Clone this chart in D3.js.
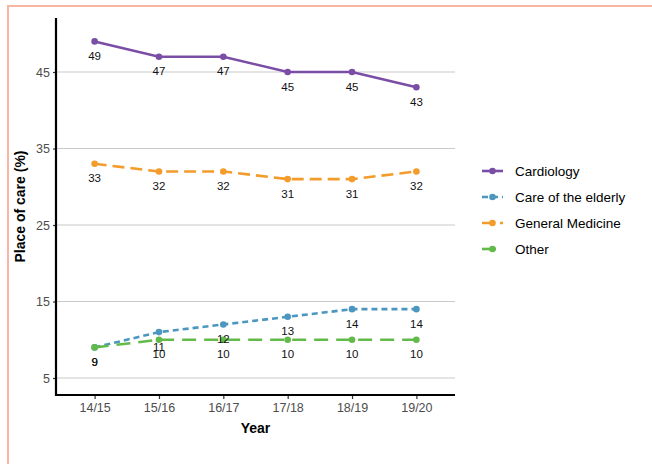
<!DOCTYPE html>
<html>
<head>
<meta charset="utf-8">
<script src="https://cdn.jsdelivr.net/npm/d3@7"></script>
<style>
  html, body { margin: 0; padding: 0; background: #fff; }
  svg { display: block; font-family: "Liberation Sans", Arial, sans-serif; }
</style>
</head>
<body>
<svg id="chart" width="652" height="464"></svg>
<script>
const years = ["14/15", "15/16", "16/17", "17/18", "18/19", "19/20"];
const cardiology = [49, 47, 47, 45, 45, 43];
const careElderly = [9, 11, 12, 13, 14, 14];
const generalMedicine = [33, 32, 32, 31, 31, 32];
const other = [9, 10, 10, 10, 10, 10];
const yTicks = [5, 15, 25, 35, 45];
const seriesNames = ["Cardiology", "Care of the elderly", "General Medicine", "Other"];
const seriesColors = ["#7b4ea6", "#4b97bf", "#f39b2b", "#62ba4b"];
const seriesDash = [null, "6,4", "12,6", "14,8"];
const seriesValues = [cardiology, careElderly, generalMedicine, other];

(function () {
const svg = d3.select("#chart");

// salmon frame
svg.append("line").attr("x1", 7).attr("x2", 652).attr("y1", 6).attr("y2", 6)
  .attr("stroke", "#f9b5a3").attr("stroke-width", 2);
svg.append("line").attr("x1", 8).attr("x2", 8).attr("y1", 5).attr("y2", 464)
  .attr("stroke", "#f9b5a3").attr("stroke-width", 2);

const pLeft = 56, pRight = 455, pTop = 18, pBottom = 395;
const x = d3.scalePoint().domain(years).range([pLeft, pRight]).padding(0.6);
const y = d3.scaleLinear().domain([2.78, 52.06]).range([pBottom, pTop]);

// gridlines
svg.append("g").selectAll("line").data(yTicks).join("line")
  .attr("x1", pLeft).attr("x2", pRight)
  .attr("y1", d => y(d)).attr("y2", d => y(d))
  .attr("stroke", "#c9c9c9").attr("stroke-width", 1);

// axes
const xAxis = svg.append("g").attr("transform", `translate(0,${pBottom})`)
  .call(d3.axisBottom(x).tickSize(4).tickPadding(4));
xAxis.select(".domain").remove();
xAxis.selectAll(".tick line").attr("stroke", "#333").attr("stroke-width", 1.2);
xAxis.selectAll(".tick text").attr("fill", "#4d4d4d").attr("font-size", 12.5)
  .attr("font-family", "Liberation Sans, Arial, sans-serif");

const yAxis = svg.append("g").attr("transform", `translate(${pLeft},0)`)
  .call(d3.axisLeft(y).tickValues(yTicks).tickSize(3).tickPadding(3));
yAxis.select(".domain").remove();
yAxis.selectAll(".tick line").attr("stroke", "#333").attr("stroke-width", 1.2);
yAxis.selectAll(".tick text").attr("fill", "#4d4d4d").attr("font-size", 12.5)
  .attr("font-family", "Liberation Sans, Arial, sans-serif");

svg.append("line").attr("x1", pLeft).attr("x2", pLeft).attr("y1", pTop).attr("y2", pBottom + 1)
  .attr("stroke", "#000").attr("stroke-width", 2.2);
svg.append("line").attr("x1", pLeft - 1).attr("x2", pRight).attr("y1", pBottom).attr("y2", pBottom)
  .attr("stroke", "#000").attr("stroke-width", 2.2);

// axis titles
svg.append("text").attr("x", (pLeft + pRight) / 2).attr("y", 433)
  .attr("text-anchor", "middle").attr("font-size", 14).attr("font-weight", "bold")
  .attr("fill", "#000").text("Year");
svg.append("text").attr("transform", `translate(25,${(pTop + pBottom) / 2}) rotate(-90)`)
  .attr("text-anchor", "middle").attr("font-size", 14).attr("font-weight", "bold")
  .attr("fill", "#000").text("Place of care (%)");

// lines and points
const line = d3.line().x((d, i) => x(years[i])).y(d => y(d));
seriesValues.forEach((vals, s) => {
  const g = svg.append("g");
  g.append("path").datum(vals).attr("d", line)
    .attr("fill", "none").attr("stroke", seriesColors[s]).attr("stroke-width", 2.6)
    .attr("stroke-dasharray", seriesDash[s]);
  g.selectAll("circle").data(vals).join("circle")
    .attr("cx", (d, i) => x(years[i])).attr("cy", d => y(d)).attr("r", 3.3)
    .attr("fill", seriesColors[s]);
});

// labels
seriesValues.forEach((vals, s) => {
  svg.append("g").selectAll("text").data(vals).join("text")
    .attr("x", (d, i) => x(years[i])).attr("y", d => y(d) + 18.5)
    .attr("text-anchor", "middle").attr("font-size", 11.5).attr("fill", "#111")
    .text(d => d);
});

// legend
const legY = [171, 197, 223, 249];
seriesNames.forEach((name, s) => {
  const g = svg.append("g").attr("transform", `translate(0,${legY[s]})`);
  g.append("line").attr("x1", 482).attr("x2", 503).attr("y1", 0).attr("y2", 0)
    .attr("stroke", seriesColors[s]).attr("stroke-width", 2.6)
    .attr("stroke-dasharray", seriesDash[s]);
  g.append("circle").attr("cx", 492.5).attr("cy", 0).attr("r", 3.3).attr("fill", seriesColors[s]);
  g.append("text").attr("x", 515).attr("y", 0).attr("dy", "0.35em")
    .attr("font-size", 13.5).attr("fill", "#000").text(name);
});
})();
</script>
</body>
</html>
